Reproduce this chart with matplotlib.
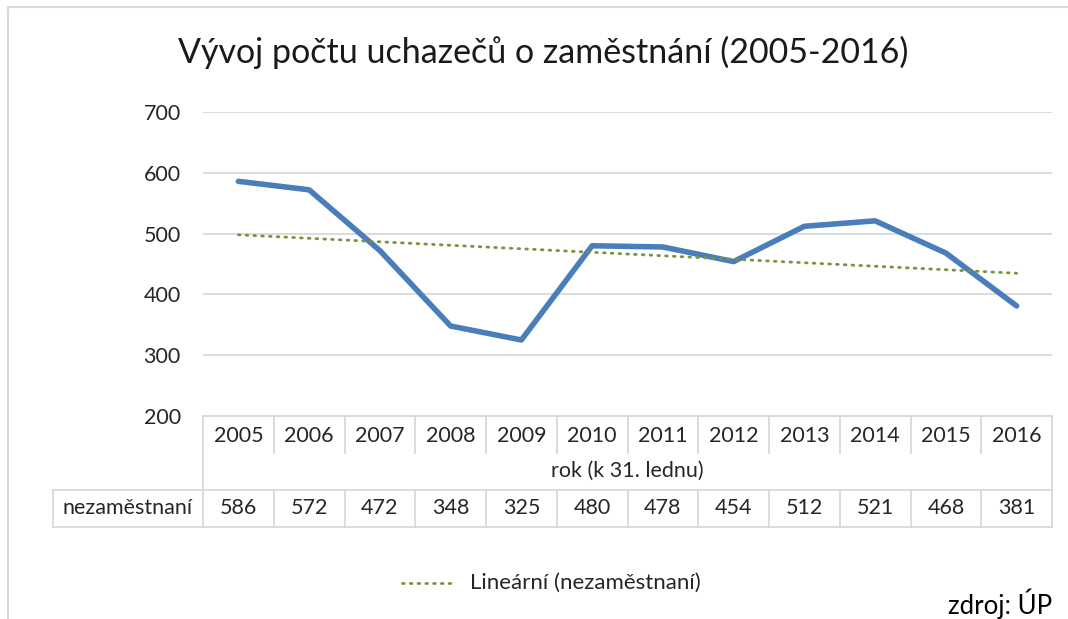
import numpy as np
import matplotlib
matplotlib.use("Agg")
import matplotlib.pyplot as plt
from matplotlib.transforms import blended_transform_factory
from matplotlib.lines import Line2D

plt.rcParams['font.family'] = ['Lato', 'DejaVu Sans']

years = ["2005", "2006", "2007", "2008", "2009", "2010", "2011", "2012", "2013", "2014", "2015", "2016"]
unemployed = [586, 572, 472, 348, 325, 480, 478, 454, 512, 521, 468, 381]
series_name = "nezaměstnaní"
title = "Vývoj počtu uchazečů o zaměstnání (2005-2016)"
x_title = "rok (k 31. lednu)"
trend_label = "Lineární (nezaměstnaní)"
source = "zdroj: ÚP"
y_ticks = [200, 300, 400, 500, 600, 700]

W, H = 1068, 619
fig = plt.figure(figsize=(W / 100, H / 100), dpi=100)

def fx(px):
    return px / W

def fy(py):
    return 1 - py / H

FS = 15.5
TXT = "#262626"

ax_l, ax_r, ax_t, ax_b = 203, 1052, 112, 416
ax = fig.add_axes([fx(ax_l), fy(ax_b), fx(ax_r - ax_l), (ax_b - ax_t) / H])

xs = np.arange(len(years))
grid_c = "#d9d9d9"
ax.set_xlim(-0.5, len(years) - 0.5)
ax.set_ylim(200, 700)
ax.set_yticks(y_ticks)
ax.set_xticks([])
ax.yaxis.grid(True, color=grid_c, linewidth=1.3)
ax.set_axisbelow(True)
for s in ax.spines.values():
    s.set_visible(False)
ax.tick_params(axis='y', length=0, pad=16, labelsize=FS, labelcolor=TXT)

ax.plot(xs, unemployed, color="#4a7ebb", linewidth=4.0, solid_capstyle='round', solid_joinstyle='round', zorder=3)

coef = np.polyfit(xs, unemployed, 1)
trend = np.polyval(coef, xs)
ax.plot(xs, trend, color="#77933c", linewidth=2.0, linestyle=(0, (0.6, 2.2)), dash_capstyle='round', zorder=4)

# Data table
tr = blended_transform_factory(ax.transData, fig.transFigure)
row1_t, row1_b = 416, 455
row3_t, row3_b = 490, 527
lab_l = 53
lw = 1.3

def hline(x0, x1, py, trans):
    ax.add_line(Line2D([x0, x1], [fy(py), fy(py)], transform=trans, color=grid_c, linewidth=lw, clip_on=False))

def vline(x, py0, py1, trans):
    ax.add_line(Line2D([x, x], [fy(py0), fy(py1)], transform=trans, color=grid_c, linewidth=lw, clip_on=False))

hline(-0.5, len(years) - 0.5, row1_t, tr)
fig.add_artist(Line2D([fx(lab_l), fx(ax_r)], [fy(row3_t), fy(row3_t)], color=grid_c, linewidth=lw))
fig.add_artist(Line2D([fx(lab_l), fx(ax_r)], [fy(row3_b), fy(row3_b)], color=grid_c, linewidth=lw))
vline(-0.5, row1_t, row3_b, tr)
vline(len(years) - 0.5, row1_t, row3_b, tr)
fig.add_artist(Line2D([fx(lab_l), fx(lab_l)], [fy(row3_t), fy(row3_b)], color=grid_c, linewidth=lw))
for i in range(1, len(years)):
    vline(i - 0.5, row1_t, row1_b - 2, tr)
    vline(i - 0.5, row3_t, row3_b, tr)

for i, (yr, v) in enumerate(zip(years, unemployed)):
    ax.text(i, fy(436), yr, transform=tr, ha='center', va='center', fontsize=FS, color=TXT)
    ax.text(i, fy(508), str(v), transform=tr, ha='center', va='center', fontsize=FS, color=TXT)

fig.text(fx((ax_l + ax_r) / 2), fy(471), x_title, ha='center', va='center', fontsize=FS, color=TXT)
fig.text(fx((lab_l + ax_l) / 2), fy(508), series_name, ha='center', va='center', fontsize=FS, color=TXT)

# Title
fig.text(fx(543), fy(52), title, ha='center', va='center', fontsize=24.5, color="#1a1a1a")

# Legend
fig.add_artist(Line2D([fx(402), fx(456)], [fy(583), fy(583)], color="#77933c", linewidth=2.0,
                      linestyle=(0, (0.6, 2.2)), dash_capstyle='round'))
fig.text(fx(470), fy(583), trend_label, ha='left', va='center', fontsize=16, color=TXT)

# Source
fig.text(fx(1052), fy(604), source, ha='right', va='center', fontsize=18.5, color="#000000")

# Chart frame (left and top)
fig.add_artist(Line2D([fx(8), fx(8)], [fy(7), 0], color="#d9d9d9", linewidth=1.5))
fig.add_artist(Line2D([fx(8), 1], [fy(7), fy(7)], color="#d9d9d9", linewidth=1.5))

fig.savefig("out.png", dpi=100, facecolor="white")
